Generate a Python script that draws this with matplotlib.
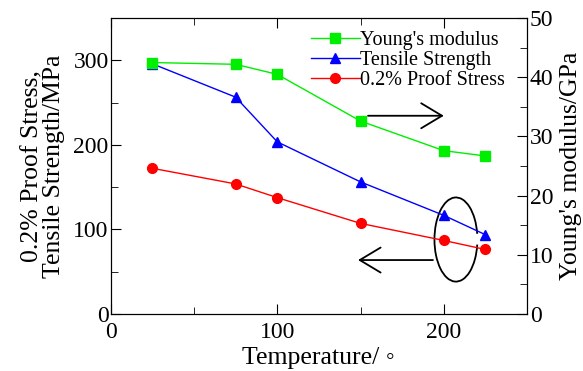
import matplotlib
matplotlib.use('Agg')
import matplotlib.pyplot as plt
from matplotlib.patches import Arc
from matplotlib.ticker import MultipleLocator

plt.rcParams['font.family'] = ['Liberation Serif', 'DejaVu Serif', 'DejaVu Sans']

temperature = [25, 75, 100, 150, 200, 225]
youngs_modulus = [42.5, 42.2, 40.5, 32.6, 27.6, 26.7]
tensile_strength = [296, 256.5, 203.6, 156.2, 116.6, 93.7]
proof_stress = [172.3, 153.8, 137.6, 107.1, 86.9, 76.2]

fig = plt.figure(figsize=(5.83, 3.71), dpi=100)
ax = fig.add_axes([0.190, 0.154, 0.714, 0.797])
ax2 = ax.twinx()

l1, = ax2.plot(temperature, youngs_modulus, color='#00ee00', marker='s', markersize=7, lw=1, label="Young's modulus")
l2, = ax.plot(temperature, tensile_strength, color='#0000ff', marker='^', markersize=7, lw=1, label='Tensile Strength')
l3, = ax.plot(temperature, proof_stress, color='#ff0000', marker='o', markersize=7, lw=1, label='0.2% Proof Stress')

ax.set_xlim(0, 250)
ax.set_ylim(0, 350)
ax2.set_ylim(0, 50)

ax.xaxis.set_major_locator(MultipleLocator(100))
ax.xaxis.set_minor_locator(MultipleLocator(50))
ax.yaxis.set_major_locator(MultipleLocator(100))
ax.yaxis.set_minor_locator(MultipleLocator(50))
ax2.yaxis.set_major_locator(MultipleLocator(10))
ax2.yaxis.set_minor_locator(MultipleLocator(5))

ax.tick_params(axis='x', which='both', direction='in', top=True, labelsize=17, pad=6)
ax.tick_params(axis='y', which='both', direction='in', right=False, labelsize=17, pad=1.5)
ax.tick_params(which='major', length=7)
ax.tick_params(which='minor', length=5)
ax2.tick_params(axis='y', which='both', direction='in', labelsize=17, pad=2)
ax2.tick_params(which='major', length=7)
ax2.tick_params(which='minor', length=5)

ax.set_xlabel('Temperature/ \u25e6', fontsize=18.5, labelpad=2.5)
ax.set_ylabel('0.2% Proof Stress,\nTensile Strength/MPa', fontsize=18.5, linespacing=1.0, labelpad=6)
ax2.set_ylabel("Young's modulus/GPa", fontsize=18.5, labelpad=5)

# arrows pointing to the axes
ax2.annotate('', xy=(200, 33.5), xytext=(154.5, 33.5),
             arrowprops=dict(arrowstyle='->,head_length=1.5,head_width=0.9', lw=1.3, color='black', shrinkA=0, shrinkB=0))
ax.annotate('', xy=(148.5, 63.7), xytext=(193.5, 63.7),
             arrowprops=dict(arrowstyle='->,head_length=1.5,head_width=0.9', lw=1.3, color='black', shrinkA=0, shrinkB=0))
ax.add_patch(Arc((207.3, 88), 25.8, 99.6, theta1=28, theta2=335, color='black', lw=1.3))

ax.legend([l1, l2, l3], [l.get_label() for l in (l1, l2, l3)], loc='upper right',
          bbox_to_anchor=(0.965, 0.985), frameon=False, fontsize=14.5, handlelength=2.4,
          handletextpad=0.0, labelspacing=0.05, borderaxespad=0)

fig.savefig('out.png', dpi=100)
